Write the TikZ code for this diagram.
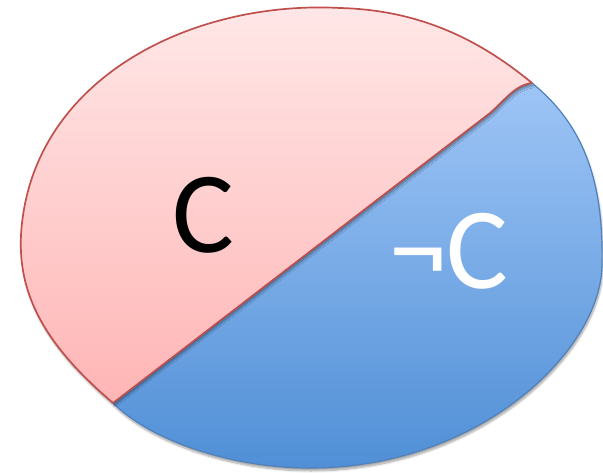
\documentclass[tikz,border=0pt]{standalone}
\usepackage{fontspec}
\setmainfont{Carlito}
\usepackage{xcolor}
\usetikzlibrary{
    positioning,
    shadows.blur
}
\tikzset{
  regionC/.style    = {draw=LineRed, line width=1.7pt, line join=round,
                       top color=PinkTop, bottom color=PinkBottom},
  regionNotC/.style = {draw=LineBlue, line width=1.2pt, line join=round,
                       top color=BlueTop, bottom color=BlueBottom},
  softshadow/.style = {blur shadow={shadow xshift=1pt, shadow yshift=-3pt,
                       shadow blur steps=6, shadow opacity=35}},
  setlabel/.style   = {font=\fontsize{116}{116}\selectfont, inner sep=0pt}
}
\definecolor{PinkTop}{RGB}{255,232,232}
\definecolor{PinkBottom}{RGB}{255,181,181}
\definecolor{LineRed}{RGB}{192,80,77}
\definecolor{BlueTop}{RGB}{158,197,246}
\definecolor{BlueBottom}{RGB}{80,143,214}
\definecolor{LineBlue}{RGB}{79,129,189}

\begin{document}
\begin{tikzpicture}[x=1pt, y=-1pt]
\useasboundingbox (0,0) rectangle (603,473);
% not C
\path[regionNotC, softshadow] (532,83) .. controls (580,122) and (604,175) .. (602,265)
  .. controls (601,350) and (480,468) .. (310,468)
  .. controls (230,468) and (150,440) .. (113,403)
  -- (490,113) .. controls (505,100) and (515,85) .. (532,83) -- cycle;
% C
\path[regionC, softshadow] (113,403) -- (490,113)
  .. controls (505,100) and (515,85) .. (532,83)
  .. controls (480,40) and (420,10) .. (340,8)
  .. controls (190,0) and (30,80) .. (21,235)
  .. controls (18,295) and (45,345) .. (113,403) -- cycle;
\node[setlabel, text=black] (cpos) at (203,215) {C};
\node[setlabel, text=white] (cneg) at (449,251) {¬C};
\end{tikzpicture}
\end{document}
